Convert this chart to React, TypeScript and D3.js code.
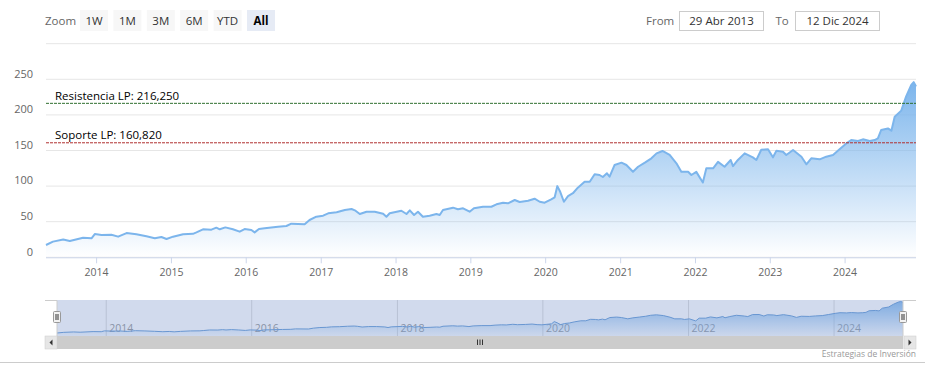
import React from "react";
import * as d3 from "d3";

const dates: string[] = [
  "2013-04-29","2013-06-02","2013-07-22","2013-08-23","2013-10-27","2013-12-07","2013-12-23",
  "2014-01-25","2014-03-14","2014-04-16","2014-05-27","2014-07-14","2014-09-01","2014-10-12","2014-11-13","2014-12-08",
  "2015-01-09","2015-02-27","2015-04-16","2015-05-03","2015-06-04","2015-07-15","2015-08-08","2015-08-25","2015-09-21","2015-10-28","2015-11-30","2015-12-24",
  "2016-01-26","2016-02-11","2016-03-03","2016-03-31","2016-06-04","2016-07-15","2016-08-08","2016-10-12","2016-11-05","2016-12-08",
  "2017-01-10","2017-02-04","2017-03-17","2017-04-26","2017-05-29","2017-06-14","2017-07-08","2017-08-10","2017-09-19","2017-10-30","2017-11-15","2017-12-01",
  "2018-01-27","2018-02-21","2018-03-09","2018-03-30","2018-04-18","2018-05-12","2018-06-14","2018-07-17","2018-08-02","2018-08-18","2018-10-06","2018-10-30","2018-11-24","2018-12-26",
  "2019-01-16","2019-03-01","2019-04-11","2019-05-06","2019-06-07","2019-07-01","2019-08-03","2019-08-27","2019-10-07","2019-11-08","2019-12-03","2019-12-27",
  "2020-01-28","2020-02-14","2020-02-27","2020-03-12","2020-03-30","2020-04-19","2020-05-13","2020-06-06","2020-07-09","2020-08-03","2020-08-27","2020-09-20","2020-10-06","2020-10-26","2020-11-08","2020-12-02",
  "2021-01-05","2021-01-29","2021-03-02","2021-03-27","2021-04-29","2021-05-31","2021-06-25","2021-07-24","2021-08-28","2021-09-30","2021-10-24","2021-11-26","2021-12-12",
  "2022-01-05","2022-02-06","2022-02-23","2022-03-28","2022-04-21","2022-05-23","2022-06-22","2022-07-03","2022-07-27","2022-08-29","2022-10-08","2022-10-25","2022-11-18","2022-12-21",
  "2023-01-14","2023-01-31","2023-03-04","2023-03-20","2023-04-22","2023-06-02","2023-06-26","2023-07-20","2023-08-30","2023-10-01","2023-11-03","2023-12-05",
  "2024-01-07","2024-01-31","2024-03-04","2024-03-28","2024-04-30","2024-05-24","2024-06-09","2024-06-25","2024-07-28","2024-08-14","2024-08-30","2024-10-01","2024-10-25","2024-11-19","2024-12-01","2024-12-12",
];

const prices: number[] = [
  17.3, 22, 25, 23, 27.5, 26.7, 32.7,
  31.3, 31.7, 29, 34, 32.3, 29.5, 26.7, 28.5, 25.7,
  29, 32.3, 33, 35, 39.3, 38.8, 41.6, 39.3, 42, 39.3, 36, 39.7,
  38.3, 35, 39.7, 40.7, 43, 44, 47.2, 46.3, 52.4, 57,
  58.4, 61.8, 63.2, 66.4, 67.8, 66, 60.8, 64, 64, 61.2, 57, 61.8,
  65.4, 60.8, 66, 59.4, 64, 57, 58.4, 60.8, 59.4, 66.4, 69.7, 67.4, 68.8, 64,
  68.8, 71, 71, 74.4, 76.7, 75.8, 80.5, 77.7, 79.5, 82.3, 78, 76.7,
  81.5, 84.3, 100, 92, 78, 86, 90, 97.8, 106, 106, 116.6, 115.6, 112.8, 118, 113.2, 129.6,
  132.9, 129.6, 120.2, 127.2, 132.9, 139, 146, 149.3, 143.7, 132, 120, 120.2, 115.6,
  120, 105, 125, 125, 134, 127.2, 136.7, 128, 136.7, 146, 140.4, 136.7, 151, 151.7,
  140.4, 149.7, 148.3, 143.7, 150.7, 141.3, 130.6, 139, 137.6, 141.3, 143.7, 151.7,
  160, 164.7, 163.3, 165.7, 163.3, 164.7, 167, 178.8, 181, 177.8, 197.5, 206, 226, 242, 246, 240,
];

const yTicks: number[] = [0, 50, 100, 150, 200, 250, 300];
const zoomButtons: string[] = ["1W", "1M", "3M", "6M", "YTD", "All"];
const plotLines = [
  { value: 216.25, label: "Resistencia LP: 216,250", color: "#2f6f2f" },
  { value: 160.82, label: "Soporte LP: 160,820", color: "#b03030" },
];
const fromLabel = "29 Abr 2013";
const toLabel = "12 Dic 2024";

export default function App() {
  const parse = d3.timeParse("%Y-%m-%d");
  const data = dates.map((d, i) => ({ date: parse(d) as Date, value: prices[i] }));
  const start = data[0].date;
  const end = data[data.length - 1].date;

  const plotL = 46, plotR = 916, plotT = 43.7, plotB = 257.3;
  const x = d3.scaleTime().domain([start, end]).range([plotL, plotR]);
  const y = d3.scaleLinear().domain([0, 300]).range([plotB, plotT]);

  const area = d3.area<{ date: Date; value: number }>()
    .x(d => x(d.date)).y0(plotB).y1(d => y(d.value));
  const line = d3.line<{ date: Date; value: number }>()
    .x(d => x(d.date)).y(d => y(d.value));

  const navL = 57, navR = 903, navT = 300, navB = 336;
  const nx = d3.scaleTime().domain([start, end]).range([navL, navR]);
  const ext = d3.extent(prices) as [number, number];
  const ny = d3.scaleLinear().domain(ext).range([333, 301.5]);
  const navArea = d3.area<{ date: Date; value: number }>()
    .x(d => nx(d.date)).y0(navB).y1(d => ny(d.value));
  const navLine = d3.line<{ date: Date; value: number }>()
    .x(d => nx(d.date)).y(d => ny(d.value));

  const xTicks = x.ticks(d3.timeYear.every(1) as any).filter(t => t >= start && t <= end);
  const navTicks = nx.ticks(d3.timeYear.every(2) as any).filter(t => t >= start && t <= end);
  const fmt = d3.timeFormat("%Y");

  const btnX0 = 80, btnW = 28, btnGap = 5.4;
  const sbT = 336, sbB = 349;
  const topVal = d3.max(prices) as number;

  return (
    <svg width={930} height={380} style={{ position: "absolute", left: 0, top: 0, fontFamily: "'Open Sans', sans-serif" }}>
      <defs>
        <linearGradient id="mainGrad" gradientUnits="userSpaceOnUse" x1={0} y1={y(topVal)} x2={0} y2={plotB}>
          <stop offset="0" stopColor="#7cb5ec" stopOpacity={1} />
          <stop offset="1" stopColor="#7cb5ec" stopOpacity={0} />
        </linearGradient>
        <linearGradient id="navGrad" gradientUnits="userSpaceOnUse" x1={0} y1={301} x2={0} y2={navB}>
          <stop offset="0" stopColor="#7cb5ec" stopOpacity={0.9} />
          <stop offset="1" stopColor="#7cb5ec" stopOpacity={0.05} />
        </linearGradient>
      </defs>
      <rect x={0} y={0} width={930} height={380} fill="#ffffff" />

      {/* Range selector */}
      <text x={45} y={25} fontSize={11.5} fill="#666">Zoom</text>
      {zoomButtons.map((b, i) => {
        const bx = btnX0 + i * (btnW + btnGap);
        const sel = b === "All";
        return (
          <g key={b}>
            <rect x={bx} y={10} width={btnW} height={21} fill={sel ? "#e6ebf5" : "#f7f7f7"} />
            <text x={bx + btnW / 2} y={24.5} fontSize={11.5} textAnchor="middle" fill={sel ? "#000" : "#333"} fontWeight={sel ? "bold" : "normal"}>{b}</text>
          </g>
        );
      })}
      <text x={646} y={24.5} fontSize={11.5} fill="#666">From</text>
      <rect x={679.5} y={11.5} width={84} height={19} fill="#fff" stroke="#cccccc" />
      <text x={721.5} y={24.5} fontSize={11.5} textAnchor="middle" fill="#333">{fromLabel}</text>
      <text x={775.5} y={24.5} fontSize={11.5} fill="#666">To</text>
      <rect x={795.5} y={11.5} width={84} height={19} fill="#fff" stroke="#cccccc" />
      <text x={837.5} y={24.5} fontSize={11.5} textAnchor="middle" fill="#333">{toLabel}</text>

      {/* Grid */}
      {yTicks.map(t => (
        <line key={t} x1={plotL} x2={plotR} y1={y(t)} y2={y(t)} stroke="#e6e6e6" strokeWidth={1} />
      ))}
      {yTicks.filter(t => t < 300).map(t => (
        <text key={"yl" + t} x={33} y={y(t) - 1.7} fontSize={11} textAnchor="end" fill="#666">{t}</text>
      ))}

      {/* Series */}
      <path d={area(data) || ""} fill="url(#mainGrad)" />
      <path d={line(data) || ""} fill="none" stroke="#7cb5ec" strokeWidth={2} strokeLinejoin="round" />

      {/* Plot lines */}
      {plotLines.map(p => (
        <g key={p.label}>
          <line x1={plotL} x2={plotR} y1={y(p.value)} y2={y(p.value)} stroke={p.color} strokeWidth={1} strokeDasharray="3,1" />
          <text x={55} y={y(p.value) - 3.5} fontSize={11.5} fill="#000">{p.label}</text>
        </g>
      ))}

      {/* X axis */}
      <line x1={plotL} x2={plotR} y1={plotB + 0.5} y2={plotB + 0.5} stroke="#ccd6eb" strokeWidth={1} />
      {xTicks.map(t => (
        <g key={+t}>
          <line x1={x(t)} x2={x(t)} y1={plotB} y2={plotB + 6} stroke="#ccd6eb" />
          <text x={x(t)} y={275.5} fontSize={10.5} textAnchor="middle" fill="#666">{fmt(t)}</text>
        </g>
      ))}

      {/* Navigator */}
      {navTicks.map(t => (
        <g key={"n" + +t}>
          <line x1={nx(t)} x2={nx(t)} y1={navT} y2={navB} stroke="#dcdcdc" />
          <text x={nx(t) + 3} y={332} fontSize={10.5} fill="#999">{fmt(t)}</text>
        </g>
      ))}
      <path d={navArea(data) || ""} fill="url(#navGrad)" />
      <path d={navLine(data) || ""} fill="none" stroke="#6a9fd8" strokeWidth={1} />
      <rect x={navL} y={navT} width={navR - navL} height={navB - navT} fill="rgba(102,133,194,0.3)" />
      <path d={`M45,${navT + 0.5} H${navL} V${navB} M${navR},${navB} V${navT + 0.5} H916`} fill="none" stroke="#cccccc" strokeWidth={1} />
      {[navL, navR].map((hx, i) => (
        <g key={"h" + i}>
          <rect x={hx - 3.5} y={311.5} width={7} height={11} fill="#f2f2f2" stroke="#999" strokeWidth={1} rx={1} />
          <line x1={hx - 1} x2={hx - 1} y1={314} y2={320} stroke="#333" />
          <line x1={hx + 1} x2={hx + 1} y1={314} y2={320} stroke="#333" />
        </g>
      ))}

      {/* Scrollbar */}
      <rect x={45} y={sbT} width={871} height={sbB - sbT} fill="#f2f2f2" />
      <rect x={navL} y={sbT} width={navR - navL} height={sbB - sbT} fill="#cccccc" />
      <rect x={45} y={sbT} width={12} height={sbB - sbT} fill="#e6e6e6" stroke="#cccccc" strokeWidth={0.5} />
      <rect x={904} y={sbT} width={12} height={sbB - sbT} fill="#e6e6e6" stroke="#cccccc" strokeWidth={0.5} />
      <path d={`M52.5,339.5 L49.5,342.5 L52.5,345.5 Z`} fill="#333" />
      <path d={`M908.5,339.5 L911.5,342.5 L908.5,345.5 Z`} fill="#333" />
      {[-2.5, 0, 2.5].map(dx => (
        <line key={dx} x1={(navL + navR) / 2 + dx} x2={(navL + navR) / 2 + dx} y1={339.5} y2={345} stroke="#333" strokeWidth={1} />
      ))}

      {/* Credits & bottom border */}
      <text x={916} y={357} fontSize={8.5} textAnchor="end" fill="#999">Estrategias de Inversión</text>
      <line x1={0} x2={925} y1={362.5} y2={362.5} stroke="#cccccc" strokeWidth={1} />
    </svg>
  );
}
